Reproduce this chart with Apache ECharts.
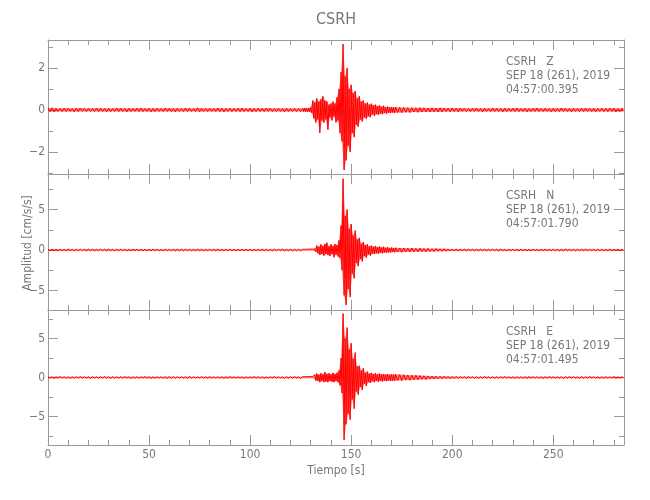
<!DOCTYPE html>
<html>
<head>
<meta charset="utf-8">
<script src="https://cdn.jsdelivr.net/npm/echarts@6/dist/echarts.min.js"></script>
<style>
html,body{margin:0;padding:0;background:#fff;}
#chart{width:650px;height:500px;}
</style>
</head>
<body>
<div id="chart"></div>
<script>
// ---------- DATA ----------
// bin start times [s] (2 s bins before/after the event, 1 s bins across it)
const binStart = [
  0,2,4,6,8,10,12,14,16,18,20,22,24,26,28,30,32,34,36,38,40,42,44,46,48,50,52,54,56,58,60,62,64,66,68,70,72,74,76,78,80,82,84,86,88,90,92,94,96,98,100,102,104,106,108,110,112,114,116,118,120,122,124,
  126,127,128,129,130,131,132,133,134,135,136,137,138,139,140,141,142,143,144,145,146,147,148,149,150,151,152,153,154,155,156,157,158,159,160,161,162,163,164,165,166,167,168,169,170,171,
  172,174,176,178,180,182,184,186,188,190,192,194,196,198,200,202,204,206,208,210,212,214,216,218,220,222,224,226,228,230,232,234,236,238,240,242,244,246,248,250,252,254,256,258,260,262,264,266,268,270,272,274,276,278,280,282,284
];
const timeEnd = 285;

// Component Z: per-bin maximum and minimum [cm/s/s]
const zUp = [
  0.09,0.10,0.08,0.07,0.09,0.08,0.07,0.08,0.09,0.07,0.08,0.07,0.09,0.08,0.07,0.08,0.07,0.09,0.08,0.07,
  0.08,0.07,0.08,0.09,0.07,0.08,0.07,0.08,0.07,0.09,0.08,0.07,0.08,0.07,0.09,0.08,0.07,0.10,0.08,0.07,
  0.08,0.07,0.09,0.08,0.07,0.08,0.07,0.08,0.09,0.07,0.08,0.07,0.08,0.07,0.09,0.08,0.07,0.08,0.07,0.08,
  0.07,0.08,0.07,
  0.08,0.09,0.08,0.09,0.12,0.45,0.35,0.55,0.4,0.5,0.65,0.45,0.4,0.25,0.3,0.4,0.3,0.6,1.0,1.8,
  3.14,1.6,2.0,1.0,1.2,0.8,0.9,0.55,0.65,0.4,0.45,0.3,0.35,0.25,0.3,0.22,0.25,0.18,0.22,0.15,
  0.2,0.14,0.16,0.12,0.14,0.12,
  0.13,0.12,0.12,0.11,0.11,0.10,0.11,0.10,0.09,0.10,0.09,0.10,0.09,0.08,0.09,0.08,0.09,0.08,0.07,0.08,
  0.09,0.07,0.08,0.07,0.09,0.08,0.07,0.08,0.07,0.08,0.09,0.07,0.08,0.07,0.08,0.09,0.07,0.08,0.07,0.08,
  0.07,0.09,0.08,0.07,0.08,0.07,0.08,0.09,0.07,0.08,0.07,0.08,0.07,0.09,0.08,0.07,0.08
];
const zDn = [
  -0.08,-0.09,-0.07,-0.08,-0.08,-0.07,-0.09,-0.08,-0.07,-0.08,-0.07,-0.08,-0.08,-0.07,-0.09,-0.08,-0.07,-0.08,-0.07,-0.09,
  -0.08,-0.07,-0.08,-0.08,-0.07,-0.09,-0.08,-0.07,-0.08,-0.07,-0.08,-0.09,-0.07,-0.08,-0.08,-0.07,-0.08,-0.09,-0.07,-0.08,
  -0.07,-0.08,-0.08,-0.09,-0.07,-0.08,-0.07,-0.08,-0.08,-0.07,-0.09,-0.08,-0.07,-0.08,-0.07,-0.08,-0.08,-0.07,-0.09,-0.08,
  -0.07,-0.08,-0.08,
  -0.08,-0.08,-0.09,-0.08,-0.15,-0.4,-0.6,-0.45,-1.1,-0.5,-0.6,-0.45,-0.94,-0.35,-0.5,-0.3,-0.6,-0.5,-1.1,-1.5,
  -2.86,-2.4,-1.7,-2.0,-1.1,-1.3,-0.7,-0.8,-0.45,-0.55,-0.35,-0.42,-0.3,-0.35,-0.22,-0.28,-0.2,-0.24,-0.17,-0.2,
  -0.15,-0.18,-0.13,-0.15,-0.12,-0.14,
  -0.12,-0.13,-0.11,-0.12,-0.10,-0.11,-0.10,-0.09,-0.10,-0.09,-0.10,-0.09,-0.08,-0.09,-0.08,-0.09,-0.07,-0.08,-0.08,-0.07,
  -0.08,-0.09,-0.07,-0.08,-0.08,-0.07,-0.09,-0.08,-0.07,-0.08,-0.08,-0.07,-0.09,-0.08,-0.07,-0.08,-0.08,-0.07,-0.09,-0.08,
  -0.08,-0.07,-0.08,-0.09,-0.07,-0.08,-0.08,-0.07,-0.08,-0.09,-0.07,-0.08,-0.08,-0.07,-0.09,-0.08,-0.07
];

// Component N
const nUp = [
  0.10,0.12,0.09,0.11,0.10,0.13,0.09,0.10,0.11,0.09,0.12,0.10,0.09,0.11,0.10,0.12,0.09,0.10,0.11,0.10,
  0.09,0.12,0.10,0.11,0.09,0.10,0.12,0.10,0.09,0.11,0.10,0.09,0.12,0.10,0.11,0.09,0.10,0.13,0.10,0.09,
  0.11,0.10,0.12,0.09,0.10,0.11,0.10,0.09,0.12,0.10,0.11,0.09,0.10,0.12,0.10,0.09,0.11,0.10,0.12,0.10,
  0.09,0.11,0.10,
  0.10,0.09,0.10,0.10,0.12,0.10,0.15,0.55,0.4,0.7,0.5,0.75,0.9,0.45,0.7,0.5,0.75,0.6,1.2,3.0,
  8.8,4.2,5.0,2.6,3.2,1.8,2.4,1.3,1.5,0.8,1.0,0.6,0.7,0.45,0.55,0.4,0.5,0.35,0.45,0.3,
  0.4,0.28,0.35,0.25,0.3,0.25,
  0.28,0.25,0.26,0.22,0.24,0.2,0.22,0.18,0.2,0.17,0.18,0.15,0.16,0.14,0.13,0.12,0.13,0.11,0.12,0.10,
  0.11,0.12,0.10,0.09,0.11,0.10,0.12,0.09,0.10,0.11,0.10,0.12,0.09,0.10,0.11,0.10,0.09,0.12,0.10,0.11,
  0.09,0.10,0.12,0.10,0.09,0.11,0.10,0.12,0.09,0.10,0.11,0.10,0.09,0.12,0.10,0.11,0.10
];
const nDn = [
  -0.11,-0.09,-0.12,-0.10,-0.11,-0.09,-0.12,-0.10,-0.09,-0.11,-0.10,-0.12,-0.09,-0.10,-0.11,-0.10,-0.12,-0.09,-0.10,-0.11,
  -0.12,-0.10,-0.09,-0.11,-0.10,-0.12,-0.09,-0.10,-0.11,-0.10,-0.09,-0.12,-0.10,-0.11,-0.09,-0.10,-0.12,-0.10,-0.11,-0.09,
  -0.10,-0.12,-0.09,-0.11,-0.10,-0.10,-0.12,-0.09,-0.11,-0.10,-0.12,-0.10,-0.09,-0.11,-0.10,-0.12,-0.10,-0.09,-0.11,-0.10,
  -0.12,-0.10,-0.11,
  -0.1,-0.1,-0.09,-0.1,-0.1,-0.12,-0.2,-0.4,-0.6,-0.5,-0.7,-0.5,-0.6,-0.75,-0.5,-0.9,-0.55,-0.8,-1.0,-2.5,
  -5.6,-6.8,-4.8,-5.8,-2.9,-3.5,-1.6,-2.0,-1.1,-1.4,-0.75,-0.95,-0.55,-0.7,-0.45,-0.5,-0.4,-0.45,-0.35,-0.4,
  -0.3,-0.35,-0.28,-0.3,-0.25,-0.28,
  -0.25,-0.27,-0.22,-0.24,-0.2,-0.22,-0.19,-0.2,-0.17,-0.18,-0.15,-0.16,-0.14,-0.13,-0.12,-0.13,-0.11,-0.12,-0.10,-0.11,
  -0.12,-0.10,-0.11,-0.09,-0.10,-0.12,-0.10,-0.11,-0.09,-0.10,-0.12,-0.10,-0.11,-0.10,-0.09,-0.12,-0.10,-0.11,-0.09,-0.10,
  -0.12,-0.11,-0.10,-0.09,-0.12,-0.10,-0.11,-0.10,-0.09,-0.12,-0.10,-0.11,-0.10,-0.12,-0.09,-0.10,-0.11
];

// Component E
const eUp = [
  0.11,0.09,0.10,0.12,0.10,0.09,0.11,0.10,0.12,0.09,0.10,0.11,0.10,0.09,0.12,0.10,0.11,0.09,0.10,0.12,
  0.10,0.09,0.11,0.10,0.12,0.10,0.09,0.11,0.10,0.09,0.12,0.10,0.11,0.09,0.10,0.12,0.10,0.09,0.11,0.10,
  0.12,0.09,0.10,0.11,0.10,0.12,0.09,0.10,0.11,0.09,0.10,0.12,0.10,0.11,0.09,0.10,0.12,0.10,0.09,0.11,
  0.10,0.12,0.10,
  0.10,0.11,0.10,0.12,0.11,0.13,0.35,0.5,0.35,0.55,0.4,0.7,0.45,0.55,0.4,0.6,0.45,0.6,0.9,2.5,
  8.2,5.0,6.4,3.6,4.4,2.4,3.2,1.4,1.5,0.9,1.2,0.6,0.75,0.5,0.6,0.45,0.55,0.4,0.5,0.4,
  0.45,0.38,0.45,0.35,0.42,0.38,
  0.4,0.38,0.35,0.32,0.3,0.28,0.25,0.22,0.2,0.18,0.17,0.15,0.16,0.14,0.13,0.12,0.13,0.11,0.12,0.10,
  0.11,0.10,0.12,0.09,0.10,0.11,0.10,0.12,0.09,0.10,0.11,0.10,0.09,0.12,0.10,0.11,0.09,0.10,0.12,0.10,
  0.09,0.11,0.10,0.12,0.10,0.09,0.11,0.10,0.12,0.09,0.10,0.11,0.10,0.09,0.12,0.10,0.11
];
const eDn = [
  -0.10,-0.12,-0.09,-0.11,-0.10,-0.12,-0.10,-0.09,-0.11,-0.10,-0.12,-0.09,-0.10,-0.11,-0.10,-0.12,-0.09,-0.11,-0.10,-0.09,
  -0.12,-0.10,-0.11,-0.09,-0.10,-0.12,-0.11,-0.10,-0.09,-0.12,-0.10,-0.11,-0.09,-0.10,-0.12,-0.10,-0.11,-0.09,-0.10,-0.12,
  -0.10,-0.09,-0.11,-0.12,-0.10,-0.09,-0.11,-0.10,-0.12,-0.10,-0.09,-0.11,-0.10,-0.12,-0.10,-0.09,-0.11,-0.10,-0.12,-0.09,
  -0.11,-0.10,-0.12,
  -0.1,-0.1,-0.12,-0.1,-0.11,-0.12,-0.4,-0.45,-0.6,-0.45,-0.6,-0.5,-0.6,-0.45,-0.55,-0.6,-0.45,-0.6,-1.0,-2.0,
  -8.0,-6.0,-4.6,-5.4,-2.8,-4.0,-1.8,-2.2,-1.2,-1.6,-0.8,-1.1,-0.6,-0.7,-0.5,-0.6,-0.45,-0.55,-0.45,-0.5,
  -0.4,-0.48,-0.38,-0.45,-0.4,-0.42,
  -0.38,-0.4,-0.33,-0.35,-0.28,-0.3,-0.24,-0.25,-0.2,-0.2,-0.16,-0.17,-0.14,-0.15,-0.12,-0.13,-0.11,-0.12,-0.10,-0.11,
  -0.12,-0.10,-0.09,-0.11,-0.12,-0.10,-0.11,-0.09,-0.10,-0.12,-0.10,-0.11,-0.12,-0.09,-0.10,-0.11,-0.12,-0.10,-0.09,-0.11,
  -0.10,-0.12,-0.11,-0.09,-0.10,-0.12,-0.10,-0.11,-0.09,-0.10,-0.12,-0.11,-0.10,-0.09,-0.12,-0.10,-0.11
];

// Axis ticks / labels
const xMajorTicks = [0, 50, 100, 150, 200, 250];
const xMinorTicks = [10,20,30,40,60,70,80,90,110,120,130,140,160,170,180,190,210,220,230,240,260,270,280];
const panelYMin = [-3.05, -7.4, -8.65];
const panelYMax = [3.33, 9.38, 8.65];
const yMajorTicks = [[-2, 0, 2], [-5, 0, 5], [-5, 0, 5]];
const yMinorTicks = [[-3, -1, 1, 3], [-7.5, -2.5, 2.5, 7.5], [-7.5, -2.5, 2.5, 7.5]];

const stationName = 'CSRH';
const components = ['Z', 'N', 'E'];
const dateLine = 'SEP 18 (261), 2019';
const startTimes = ['04:57:00.395', '04:57:01.790', '04:57:01.495'];
const xAxisTitle = 'Tiempo [s]';
const yAxisTitle = 'Amplitud [cm/s/s]';

// ---------- CHART ----------
const FONT = "'Liberation Sans Narrow', 'DejaVu Sans Condensed', 'Roboto Condensed', 'Liberation Sans', sans-serif";
const AXIS_COLOR = '#9a9a9a';
const TEXT_COLOR = '#777777';

const grids = [
  {left: 48, right: 26, top: 40, height: 134},
  {left: 48, right: 26, top: 174, height: 136},
  {left: 48, right: 26, top: 310, height: 135}
];

function buildTrace(up, dn) {
  const pts = [];
  for (let i = 0; i < binStart.length; i++) {
    const t = binStart[i];
    const next = i + 1 < binStart.length ? binStart[i + 1] : timeEnd;
    pts.push([t, up[i]]);
    pts.push([t + (next - t) / 2, dn[i]]);
  }
  return pts;
}

function fmtNum(v) {
  return v < 0 ? '\u2212' + String(-v) : String(v);
}

const xAxes = [], yAxes = [];
function addX(g, pos, ticks, len, line, labels) {
  xAxes.push({
    type: 'value', gridIndex: g, position: pos, min: 0, max: timeEnd,
    axisLine: {show: line, onZero: false, lineStyle: {color: AXIS_COLOR, width: 1}},
    axisTick: {show: true, inside: true, length: len, customValues: ticks, lineStyle: {color: AXIS_COLOR, width: 1}},
    axisLabel: labels ? {show: true, customValues: xMajorTicks, margin: 4, color: TEXT_COLOR, fontFamily: FONT, fontSize: 12, formatter: fmtNum} : {show: false},
    splitLine: {show: false}, minorTick: {show: false}
  });
  return xAxes.length - 1;
}
function addY(g, pos, ticks, len, line, labels) {
  yAxes.push({
    type: 'value', gridIndex: g, position: pos, min: panelYMin[g], max: panelYMax[g],
    axisLine: {show: line, onZero: false, lineStyle: {color: AXIS_COLOR, width: 1}},
    axisTick: {show: true, inside: true, length: len, customValues: ticks, lineStyle: {color: AXIS_COLOR, width: 1}},
    axisLabel: labels ? {show: true, customValues: yMajorTicks[g], margin: 3, color: TEXT_COLOR, fontFamily: FONT, fontSize: 12, formatter: fmtNum} : {show: false},
    splitLine: {show: false}, minorTick: {show: false}
  });
  return yAxes.length - 1;
}

const envUp = [zUp, nUp, eUp];
const envDn = [zDn, nDn, eDn];
const series = [];
const graphics = [];

// envelope band (filled between per-bin maxima and minima), drawn through the axes
function envelopeRenderer(g) {
  return function (params, api) {
    const up = envUp[g], dn = envDn[g];
    const pts = [];
    for (let i = 0; i < binStart.length; i++) {
      pts.push(api.coord([binStart[i], up[i]]));
    }
    pts.push(api.coord([timeEnd, up[up.length - 1]]));
    for (let i = binStart.length - 1; i >= 0; i--) {
      const next = i + 1 < binStart.length ? binStart[i + 1] : timeEnd;
      pts.push(api.coord([binStart[i] + (next - binStart[i]) / 2, dn[i]]));
    }
    pts.push(api.coord([0, dn[0]]));
    return {
      type: 'polygon',
      shape: {points: pts},
      style: {fill: 'rgba(255,0,0,0.5)', stroke: 'none'}
    };
  };
}

for (let g = 0; g < 3; g++) {
  const xi = addX(g, 'bottom', xMajorTicks, 10, true, g === 2);
  addX(g, 'bottom', xMinorTicks, 5, false, false);
  addX(g, 'top', xMajorTicks, 10, true, false);
  addX(g, 'top', xMinorTicks, 5, false, false);
  const yi = addY(g, 'left', yMajorTicks[g], 10, true, true);
  addY(g, 'left', yMinorTicks[g], 5, false, false);
  addY(g, 'right', yMajorTicks[g], 10, true, false);
  addY(g, 'right', yMinorTicks[g], 5, false, false);
  series.push({
    type: 'custom', xAxisIndex: xi, yAxisIndex: yi, silent: true, z: 1,
    data: [[binStart[0], envUp[g][0]]],
    renderItem: envelopeRenderer(g)
  });
  series.push({
    type: 'line', xAxisIndex: xi, yAxisIndex: yi, data: buildTrace(envUp[g], envDn[g]),
    showSymbol: false, symbol: 'none', silent: true,
    lineStyle: {color: '#ff0000', width: 1}, z: 2
  });
  const top = grids[g].top;
  const lines = [stationName + '   ' + components[g], dateLine, startTimes[g]];
  lines.forEach(function (s, k) {
    graphics.push({
      type: 'text', left: 506, top: top + 16 + k * 14,
      style: {text: s, fill: TEXT_COLOR, font: '12px ' + FONT}
    });
  });
}

graphics.push({
  type: 'text', x: 336, y: 20,
  style: {text: stationName, fill: TEXT_COLOR, font: '16px ' + FONT, textAlign: 'center', textVerticalAlign: 'middle'}
});
graphics.push({
  type: 'text', x: 336, y: 471,
  style: {text: xAxisTitle, fill: TEXT_COLOR, font: '12px ' + FONT, textAlign: 'center', textVerticalAlign: 'middle'}
});
graphics.push({
  type: 'text', x: 28, y: 243, rotation: Math.PI / 2,
  style: {text: yAxisTitle, fill: TEXT_COLOR, font: '12px ' + FONT, textAlign: 'center', textVerticalAlign: 'middle'}
});

const chart = echarts.init(document.getElementById('chart'), null, {renderer: 'canvas'});
chart.setOption({
  animation: false,
  backgroundColor: '#ffffff',
  grid: grids,
  xAxis: xAxes,
  yAxis: yAxes,
  series: series,
  graphic: graphics
});
</script>
</body>
</html>
